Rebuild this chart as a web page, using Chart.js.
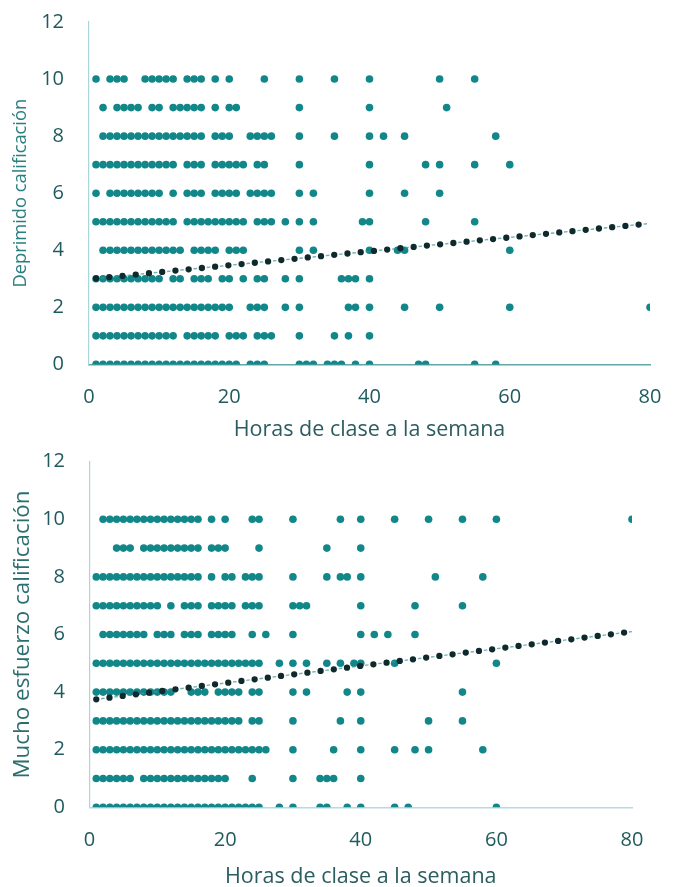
<!DOCTYPE html>
<html>
<head>
<meta charset="utf-8">
<script src="https://cdn.jsdelivr.net/npm/chart.js@4.4.1/dist/chart.umd.min.js"></script>
<style>
  html, body { margin: 0; padding: 0; background: #ffffff; }
  #wrap { position: relative; width: 683px; height: 887px; }
  canvas { position: absolute; left: 0; }
</style>
</head>
<body>
<div id="wrap">
  <canvas id="chartDeprimido" width="683" height="440" style="top:0px"></canvas>
  <canvas id="chartEsfuerzo" width="683" height="447" style="top:440px"></canvas>
</div>
<script>
// Calificación levels (y) and tick labels
const calificaciones = [0, 1, 2, 3, 4, 5, 6, 7, 8, 9, 10];
const yTicks = [0, 2, 4, 6, 8, 10, 12];
const xTicks = [0, 20, 40, 60, 80];

// "Deprimido" – hours of class per week for each calificación
const dep0  = [1,2,3,4,5,6,7,8,9,10,11,12,13,14,15,16,17,18,19,20,21,23,24,25,30,31,32,34,35,36,38,40,47,48,55,58];
const dep1  = [1,2,3,4,5,6,7,8,9,10,11,12,14,15,16,17,18,20,21,22,24,25,26,30,35,37,40];
const dep2  = [1,2,3,4,5,6,7,8,9,10,11,12,13,14,15,16,17,18,19,20,23,24,25,28,30,37,38,40,45,50,60,80];
const dep3  = [1,2,3,4,5,6,7,8,9,10,12,13,15,16,17,19,20,22,24,25,28,30,36,37,38,40];
const dep4  = [2,3,4,5,6,7,8,9,10,11,12,13,15,16,17,18,20,21,22,30,32,40,44,45,60];
const dep5  = [1,2,3,4,5,6,7,8,9,10,11,12,14,15,16,17,18,19,20,21,22,24,25,26,28,30,32,39,40,48,55];
const dep6  = [1,3,4,5,6,7,8,9,10,12,14,15,16,18,19,20,21,23,24,25,26,30,32,40,45,50];
const dep7  = [1,2,3,4,5,6,7,8,9,10,11,12,14,15,16,18,19,20,21,22,24,25,30,40,48,50,55,60];
const dep8  = [2,3,4,5,6,7,8,9,10,11,12,13,14,15,16,18,19,20,23,24,25,26,30,35,40,42,45,58];
const dep9  = [2,4,5,6,7,9,10,12,13,14,15,16,18,20,21,30,40,51];
const dep10 = [1,3,4,5,8,9,10,11,12,14,15,16,18,20,25,30,35,40,50,55];

// "Mucho esfuerzo" – hours of class per week for each calificación
const esf0  = [1,2,3,4,5,6,7,8,9,10,11,12,13,14,15,16,17,18,19,20,21,22,23,24,25,28,30,34,35,38,40,45,47,60];
const esf1  = [1,2,3,4,5,6,8,9,10,11,12,13,14,15,16,17,18,19,20,24,30,34,35,36,40];
const esf2  = [1,2,3,4,5,6,7,8,9,10,11,12,13,14,15,16,17,18,19,20,21,22,23,24,25,26,30,36,40,45,48,50,58];
const esf3  = [1,2,3,4,5,6,7,8,9,10,11,12,13,14,15,16,17,18,19,20,21,22,24,25,30,37,40,50,55];
const esf4  = [1,2,3,4,5,6,7,8,9,10,11,12,15,16,17,19,20,21,22,24,25,30,32,38,40,55];
const esf5  = [1,2,3,4,5,6,7,8,9,10,11,12,13,14,15,16,17,18,19,20,21,22,23,24,25,28,30,32,35,37,39,40,45,60];
const esf6  = [2,3,4,5,6,7,8,10,11,12,14,15,16,18,19,20,21,24,26,30,40,42,44,48];
const esf7  = [1,2,3,4,5,6,7,8,9,10,12,14,15,16,18,19,20,21,23,24,25,30,31,32,40,48,55];
const esf8  = [1,2,3,4,5,6,7,8,9,10,11,12,13,14,15,16,18,20,21,23,24,25,30,35,37,38,40,51,58];
const esf9  = [4,5,6,8,9,10,11,12,13,14,15,16,18,19,20,25,35,40];
const esf10 = [2,3,4,5,6,7,8,9,10,11,12,13,14,15,16,18,20,24,25,30,37,40,45,50,55,60,80];

// Linear trend lines: value at the first and last hour
const tendenciaHoras = [1, 80];
const tendenciaDeprimido = [3.01, 4.94];
const tendenciaEsfuerzo = [3.75, 6.10];

const depRows = [dep0, dep1, dep2, dep3, dep4, dep5, dep6, dep7, dep8, dep9, dep10];
const esfRows = [esf0, esf1, esf2, esf3, esf4, esf5, esf6, esf7, esf8, esf9, esf10];

function toPoints(rows) {
  const pts = [];
  rows.forEach((horas, i) => {
    horas.forEach(h => pts.push({ x: h, y: calificaciones[i] }));
  });
  return pts;
}

function trendPoints(values) {
  return tendenciaHoras.map((h, i) => ({ x: h, y: values[i] }));
}

const TICK_COLOR = '#1f5a5e';
const FONT = "'Open Sans', 'Noto Sans', sans-serif";

function buildChart(canvasId, rows, trend, cfg) {
  const ctx = document.getElementById(canvasId);
  return new Chart(ctx, {
    type: 'scatter',
    data: {
      datasets: [
        {
          // trend line – dark round dots
          data: trendPoints(trend),
          showLine: true,
          pointRadius: 0,
          pointHoverRadius: 0,
          borderColor: '#0e2a2d',
          borderWidth: 6.3,
          borderDash: [0, 13.3],
          borderCapStyle: 'round',
          fill: false,
          order: 0
        },
        {
          // faint connector between the trend dots
          data: trendPoints(trend),
          showLine: true,
          pointRadius: 0,
          pointHoverRadius: 0,
          borderColor: 'rgba(70,150,150,0.75)',
          borderWidth: 1.4,
          borderDash: [3.5, 9.8],
          borderDashOffset: -4.9,
          fill: false,
          order: 1
        },
        {
          data: toPoints(rows),
          pointRadius: 3.8,
          pointHoverRadius: 3.8,
          pointBackgroundColor: '#12878a',
          pointBorderWidth: 0,
          borderWidth: 0,
          order: 2
        }
      ]
    },
    options: {
      responsive: false,
      devicePixelRatio: 1,
      animation: false,
      events: [],
      layout: { padding: { left: 0, right: cfg.rightPad, top: cfg.topPad, bottom: 0 } },
      plugins: { legend: { display: false }, tooltip: { enabled: false } },
      scales: {
        x: {
          type: 'linear',
          min: 0,
          max: 80,
          afterBuildTicks: s => { s.ticks = xTicks.map(v => ({ value: v })); },
          afterFit: s => { s.height = cfg.xHeight; },
          grid: { display: false, drawTicks: false },
          border: { display: true, color: cfg.xBorderColor, width: cfg.xBorderWidth },
          ticks: { color: TICK_COLOR, font: { family: FONT, size: 20 }, padding: cfg.xTickPad, maxRotation: 0 },
          title: {
            display: true,
            text: 'Horas de clase a la semana',
            color: '#2b5d60',
            font: { family: FONT, size: 21.5 },
            padding: { top: 0, bottom: cfg.xTitlePad }
          }
        },
        y: {
          type: 'linear',
          min: 0,
          max: 12,
          afterBuildTicks: s => { s.ticks = yTicks.map(v => ({ value: v })); },
          afterFit: s => { s.width = cfg.yWidth; s.paddingTop = 0; s.paddingBottom = 0; },
          grid: { display: false, drawTicks: false },
          border: { display: true, color: '#a9d6dc', width: 1.2 },
          ticks: { color: TICK_COLOR, font: { family: FONT, size: 20 }, padding: cfg.yTickPad },
          title: {
            display: true,
            text: cfg.yTitle,
            color: cfg.yTitleColor,
            font: { family: FONT, size: cfg.yTitleSize },
            padding: { top: cfg.yTitlePad, bottom: 0 }
          }
        }
      }
    }
  });
}

buildChart('chartDeprimido', depRows, tendenciaDeprimido, {
  rightPad: 33, topPad: 22, xHeight: 75.6, yWidth: 89,
  xTickPad: 20.8, xTitlePad: -2.5, yTickPad: 25,
  xBorderColor: '#5fa7a8', xBorderWidth: 1.6,
  yTitle: 'Deprimido calificación', yTitleSize: 18.3, yTitlePad: 10.2, yTitleColor: '#2a7f80'
});

buildChart('chartEsfuerzo', esfRows, tendenciaEsfuerzo, {
  rightPad: 51, topPad: 21.7, xHeight: 79.7, yWidth: 89.5,
  xTickPad: 20.7, xTitlePad: -2.5, yTickPad: 24.5,
  xBorderColor: '#b3dce2', xBorderWidth: 1.4,
  yTitle: 'Mucho esfuerzo calificación', yTitleSize: 22.4, yTitlePad: 9.1, yTitleColor: '#2a6e70'
});
</script>
</body>
</html>
